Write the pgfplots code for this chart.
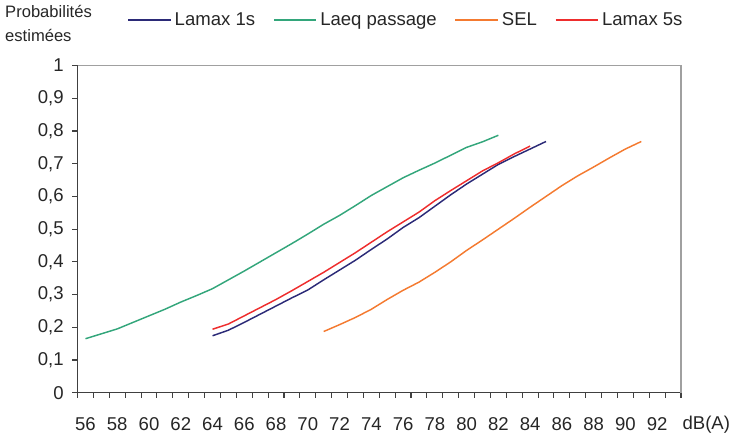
\documentclass[border=0pt]{standalone}
\usepackage{pgfplots}
\pgfplotsset{compat=1.18}
\usepackage{fontspec}
\setmainfont{Liberation Sans}
\definecolor{cblue}{HTML}{2B2A77}
\definecolor{cgreen}{HTML}{33A67B}
\definecolor{corange}{HTML}{F47A30}
\definecolor{cred}{HTML}{EE2D2D}
\definecolor{axgray}{HTML}{404040}
\definecolor{boxgray}{HTML}{A0A0A0}
\begin{document}
\begin{tikzpicture}
\begin{axis}[
  scale only axis,
  width=455.25pt, height=246.75pt,
  xmin=55.5, xmax=93.5, ymin=0, ymax=1,
  axis x line*=bottom, axis y line*=left,
  axis line style={draw=axgray, line width=0.8pt},
  tick align=outside,
  major tick length=4pt, minor tick length=4pt,
  xtick={56,58,...,92},
  minor xtick={55.5,56.5,57.5,58.5,59.5,60.5,61.5,62.5,63.5,64.5,65.5,66.5,67.5,68.5,69.5,70.5,71.5,72.5,73.5,74.5,75.5,76.5,77.5,78.5,79.5,80.5,81.5,82.5,83.5,84.5,85.5,86.5,87.5,88.5,89.5,90.5,91.5,92.5,93.5},
  every major x tick/.append style={draw=none},
  every minor x tick/.append style={draw=axgray, line width=0.8pt},
  ytick={0,0.1,...,1.01},
  every major y tick/.append style={draw=axgray, line width=0.8pt},
  /pgf/number format/assume math mode=true,
  /pgf/number format/use comma,
  /pgf/number format/fixed,
  /pgf/number format/precision=1,
  tick label style={font=\fontsize{14}{16}\selectfont, text=black!85},
  yticklabel style={xshift=-3pt},
  xticklabel style={yshift=-11pt},
  legend columns=4,
  legend style={at={(0.0824,1.14)}, anchor=west, draw=none, fill=none,
    font=\fontsize{14}{16}\selectfont, text=black!85, inner sep=0pt,
    /tikz/every even column/.append style={column sep=11pt},
    nodes={inner xsep=2.5pt}},
  legend image code/.code={\draw[#1, line width=1.1pt] (0pt,0pt) -- (32pt,0pt);},
  every axis plot/.append style={line width=1.1pt},
]
\addplot[cblue] coordinates {
(64,0.174)(65,0.191)(66,0.215)(67,0.240)(68,0.265)(69,0.290)(70,0.314)
(71,0.345)(72,0.375)(73,0.405)(74,0.438)(75,0.470)(76,0.505)(77,0.535)
(78,0.570)(79,0.605)(80,0.638)(81,0.668)(82,0.698)(83,0.722)(84,0.745)(85,0.768)};
\addlegendentry{Lamax 1s}
\addplot[cgreen] coordinates {
(56,0.165)(57,0.180)(58,0.195)(59,0.215)(60,0.235)(61,0.255)(62,0.277)
(63,0.297)(64,0.318)(65,0.345)(66,0.372)(67,0.400)(68,0.428)(69,0.456)
(70,0.485)(71,0.515)(72,0.542)(73,0.572)(74,0.603)(75,0.630)(76,0.657)
(77,0.680)(78,0.702)(79,0.726)(80,0.750)(81,0.767)(82,0.787)};
\addlegendentry{Laeq passage}
\addplot[corange] coordinates {
(71,0.187)(72,0.208)(73,0.230)(74,0.255)(75,0.285)(76,0.313)(77,0.338)
(78,0.368)(79,0.400)(80,0.435)(81,0.467)(82,0.500)(83,0.533)(84,0.567)
(85,0.600)(86,0.633)(87,0.663)(88,0.690)(89,0.718)(90,0.745)(91,0.768)};
\addlegendentry{SEL}
\addplot[cred] coordinates {
(64,0.194)(65,0.210)(66,0.235)(67,0.260)(68,0.285)(69,0.312)(70,0.340)
(71,0.368)(72,0.398)(73,0.428)(74,0.460)(75,0.492)(76,0.522)(77,0.552)
(78,0.587)(79,0.618)(80,0.648)(81,0.678)(82,0.703)(83,0.730)(84,0.754)};
\addlegendentry{Lamax 5s}
\end{axis}
\draw[boxgray, line width=0.8pt] (current axis.north west) -- (current axis.north east) -- (current axis.south east);
\node[anchor=base west, inner sep=0pt, font=\fontsize{12.5}{15}\selectfont, text=black!85]
  at ([xshift=-54.75pt, yshift=36pt]current axis.north west) {Probabilités};
\node[anchor=base west, inner sep=0pt, font=\fontsize{12.5}{15}\selectfont, text=black!85]
  at ([xshift=-54.75pt, yshift=18pt]current axis.north west) {estimées};
\node[anchor=base west, inner sep=0pt, font=\fontsize{14}{16}\selectfont, text=black!85]
  at ([xshift=1pt, yshift=-28pt]current axis.south east) {dB(A)};
\path ([xshift=-58.5pt, yshift=-33pt]current axis.south west) rectangle ([xshift=33.75pt, yshift=49.5pt]current axis.north east);
\end{tikzpicture}
\end{document}
